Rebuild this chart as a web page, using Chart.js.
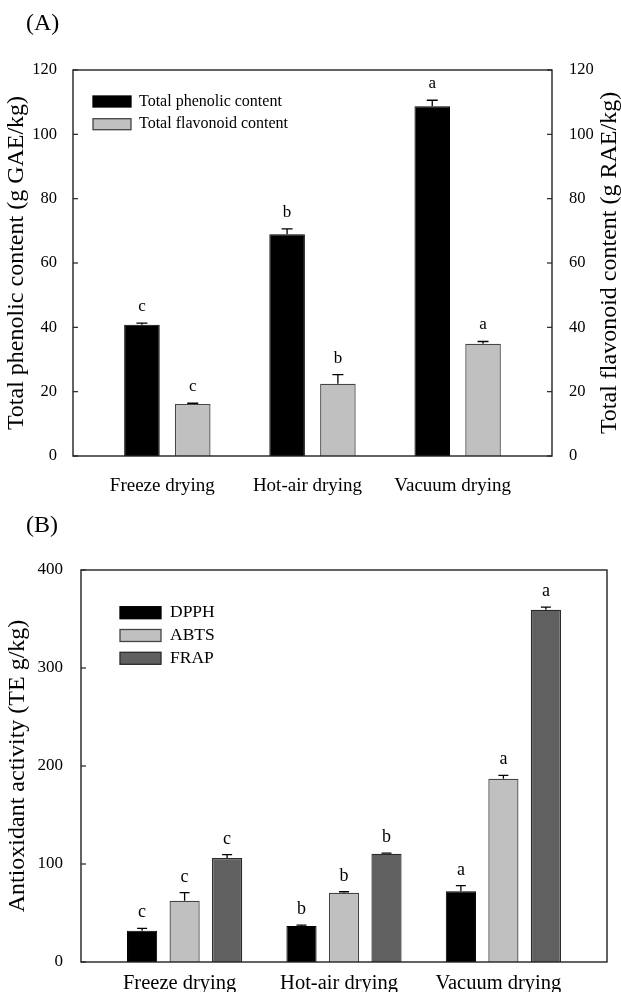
<!DOCTYPE html>
<html><head><meta charset="utf-8">
<script src="https://cdn.jsdelivr.net/npm/chart.js@4.4.1/dist/chart.umd.min.js"></script>
<style>
html,body{margin:0;padding:0;background:#fff;}
body{width:621px;height:992px;position:relative;overflow:hidden;font-family:"Liberation Serif","Times New Roman",serif;}
.wrap{position:absolute;left:0;width:621px;}
.panel{position:absolute;left:26px;font-size:24px;line-height:24px;color:#000;}
</style></head><body>
<div class="wrap" style="top:0;height:500px"><canvas id="cA" width="621" height="500"></canvas></div>
<div class="wrap" style="top:500px;height:492px"><canvas id="cB" width="621" height="492"></canvas></div>
<div class="panel" style="top:10px">(A)</div>
<div class="panel" style="top:512px">(B)</div>
<script>
// ---------- data ----------
const categories = ['Freeze drying', 'Hot-air drying', 'Vacuum drying'];

// Panel A
const phenolic = [40.8, 68.9, 108.7];
const phenolicErr = [0.5, 1.7, 1.9];
const phenolicLetters = ['c', 'b', 'a'];
const flavonoid = [16.2, 22.5, 34.9];
const flavonoidErr = [0.2, 2.8, 0.7];
const flavonoidLetters = ['c', 'b', 'a'];
const ticksA = [0, 20, 40, 60, 80, 100, 120];

// Panel B
const dpph = [31.9, 36.7, 72.1];
const dpphErr = [2.4, 1.0, 5.8];
const dpphLetters = ['c', 'b', 'a'];
const abts = [62.6, 70.7, 187.0];
const abtsErr = [8.1, 1.0, 3.5];
const abtsLetters = ['c', 'b', 'a'];
const frap = [106.1, 110.5, 359.5];
const frapErr = [3.4, 0.5, 2.7];
const frapLetters = ['c', 'b', 'a'];
const ticksB = [0, 100, 200, 300, 400];

// ---------- helpers ----------
const FONT = '"Liberation Serif","Times New Roman",serif';
Chart.defaults.font.family = FONT;
Chart.defaults.color = '#000';

function pts(arr) { return arr.map((v, i) => ({ x: i + 1, y: v })); }

const decor = {
  id: 'decor',
  afterDatasetsDraw(chart, args, o) {
    const ctx = chart.ctx, ca = chart.chartArea;
    ctx.save();
    // error bars + letters
    chart.data.datasets.forEach((ds, di) => {
      const meta = chart.getDatasetMeta(di);
      const ys = chart.scales[meta.yAxisID];
      meta.data.forEach((bar, i) => {
        const v = ds.data[i].y, e = ds.errors[i];
        const yTop = ys.getPixelForValue(v + e);
        ctx.strokeStyle = '#000'; ctx.lineWidth = 1.3;
        ctx.beginPath();
        ctx.moveTo(bar.x, bar.y); ctx.lineTo(bar.x, yTop);
        ctx.moveTo(bar.x - o.cap / 2, yTop); ctx.lineTo(bar.x + o.cap / 2, yTop);
        ctx.stroke();
        ctx.fillStyle = '#000';
        ctx.font = o.letterSize + 'px ' + FONT;
        ctx.textAlign = 'center'; ctx.textBaseline = 'alphabetic';
        ctx.fillText(ds.letters[i], bar.x, Math.min(yTop, bar.y) - o.letterGap);
      });
    });
    // frame
    ctx.strokeStyle = '#222'; ctx.lineWidth = 1.4;
    ctx.strokeRect(ca.left, ca.top, ca.right - ca.left, ca.bottom - ca.top);
    // inward ticks
    ctx.lineWidth = 1.2;
    o.tickScales.forEach(id => {
      const s = chart.scales[id];
      for (let i = 0; i < s.ticks.length; i++) {
        const y = s.getPixelForTick(i);
        ctx.beginPath();
        if (s.position === 'left') { ctx.moveTo(ca.left, y); ctx.lineTo(ca.left + 5, y); }
        else { ctx.moveTo(ca.right, y); ctx.lineTo(ca.right - 5, y); }
        ctx.stroke();
      }
    });
    // legend
    const L = o.legend;
    chart.data.datasets.forEach((ds, di) => {
      const bx = ca.left + L.x, by = ca.top + L.y + di * L.row;
      ctx.fillStyle = ds.backgroundColor;
      ctx.fillRect(bx, by, L.w, L.h);
      ctx.strokeStyle = ds.borderColor; ctx.lineWidth = 1.3;
      ctx.strokeRect(bx, by, L.w, L.h);
      ctx.fillStyle = '#000';
      ctx.font = L.size + 'px ' + FONT;
      ctx.textAlign = 'left'; ctx.textBaseline = 'middle';
      ctx.fillText(ds.label, bx + L.w + L.gap, by + L.h / 2);
    });
    // right title (reads bottom to top)
    if (o.rightTitle) {
      const t = o.rightTitle;
      ctx.translate(t.x, (ca.top + ca.bottom) / 2);
      ctx.rotate(-Math.PI / 2);
      ctx.fillStyle = '#000';
      ctx.font = t.size + 'px ' + FONT;
      ctx.textAlign = 'center'; ctx.textBaseline = 'middle';
      ctx.fillText(t.text, 0, 0);
    }
    ctx.restore();
  }
};

function xScale(h, size, pad) {
  return {
    type: 'linear', min: 0.35, max: 3.65, offset: false, bounds: 'data',
    grid: { display: false, offset: false }, border: { display: false },
    afterBuildTicks: s => { s.ticks = categories.map((c, i) => ({ value: i + 1 })); },
    ticks: { callback: v => categories[Math.round(v) - 1], font: { size: size }, color: '#000',
             padding: pad, labelOffset: -5, maxRotation: 0, autoSkip: false },
    afterFit: s => { s.height = h; }
  };
}
function yScale(pos, ticks, w, size, pad, title) {
  const sc = {
    position: pos, min: ticks[0], max: ticks[ticks.length - 1],
    grid: { display: false }, border: { display: false },
    afterBuildTicks: s => { s.ticks = ticks.map(v => ({ value: v })); },
    ticks: { font: { size: size }, color: '#000', padding: pad },
    afterFit: s => { s.width = w; }
  };
  if (title) sc.title = { display: true, text: title.text, font: { size: title.size }, color: '#000', padding: { top: title.pad, bottom: 0 } };
  return sc;
}

// ---------- Chart A ----------
new Chart(document.getElementById('cA'), {
  type: 'bar',
  data: {
    datasets: [
      { label: 'Total phenolic content', data: pts(phenolic), errors: phenolicErr, letters: phenolicLetters,
        backgroundColor: '#000000', borderColor: '#000000', borderWidth: 1, yAxisID: 'y',
        categoryPercentage: 0.70, barPercentage: 0.70 },
      { label: 'Total flavonoid content', data: pts(flavonoid), errors: flavonoidErr, letters: flavonoidLetters,
        backgroundColor: '#c0c0c0', borderColor: '#444444', borderWidth: 1.3, yAxisID: 'y2',
        categoryPercentage: 0.70, barPercentage: 0.70 }
    ]
  },
  options: {
    responsive: false, animation: false,
    layout: { padding: { top: 70, left: 0, right: 0, bottom: 0 } },
    plugins: {
      legend: { display: false }, tooltip: { enabled: false },
      decor: {
        cap: 11, letterSize: 17, letterGap: 12, tickScales: ['y', 'y2'],
        legend: { x: 20, y: 26, w: 38, h: 11, row: 22.7, gap: 8, size: 16 },
        rightTitle: { text: 'Total flavonoid content (g RAE/kg)', x: 609.5, size: 24 }
      }
    },
    scales: {
      x: xScale(44, 19, 11),
      y: yScale('left', ticksA, 73, 16.5, 8, { text: 'Total phenolic content (g GAE/kg)', size: 24, pad: 2 }),
      y2: yScale('right', ticksA, 69, 16.5, 9, null)
    }
  },
  plugins: [decor]
});

// ---------- Chart B ----------
new Chart(document.getElementById('cB'), {
  type: 'bar',
  data: {
    datasets: [
      { label: 'DPPH', data: pts(dpph), errors: dpphErr, letters: dpphLetters,
        backgroundColor: '#000000', borderColor: '#000000', borderWidth: 1, yAxisID: 'y',
        categoryPercentage: 0.80, barPercentage: 0.71 },
      { label: 'ABTS', data: pts(abts), errors: abtsErr, letters: abtsLetters,
        backgroundColor: '#c0c0c0', borderColor: '#444444', borderWidth: 1.3, yAxisID: 'y',
        categoryPercentage: 0.80, barPercentage: 0.71 },
      { label: 'FRAP', data: pts(frap), errors: frapErr, letters: frapLetters,
        backgroundColor: '#606060', borderColor: '#2a2a2a', borderWidth: 1.3, yAxisID: 'y',
        categoryPercentage: 0.80, barPercentage: 0.71 }
    ]
  },
  options: {
    responsive: false, animation: false,
    layout: { padding: { top: 70, left: 0, right: 14, bottom: 0 } },
    plugins: {
      legend: { display: false }, tooltip: { enabled: false },
      decor: {
        cap: 10, letterSize: 18, letterGap: 11, tickScales: ['y'],
        legend: { x: 39, y: 36.7, w: 41, h: 12, row: 22.8, gap: 9, size: 17.5 },
        rightTitle: null
      }
    },
    scales: {
      x: xScale(30, 20.5, 1),
      y: yScale('left', ticksB, 81, 17, 10, { text: 'Antioxidant activity (TE g/kg)', size: 24, pad: 3 })
    }
  },
  plugins: [decor]
});
</script>
</body></html>
